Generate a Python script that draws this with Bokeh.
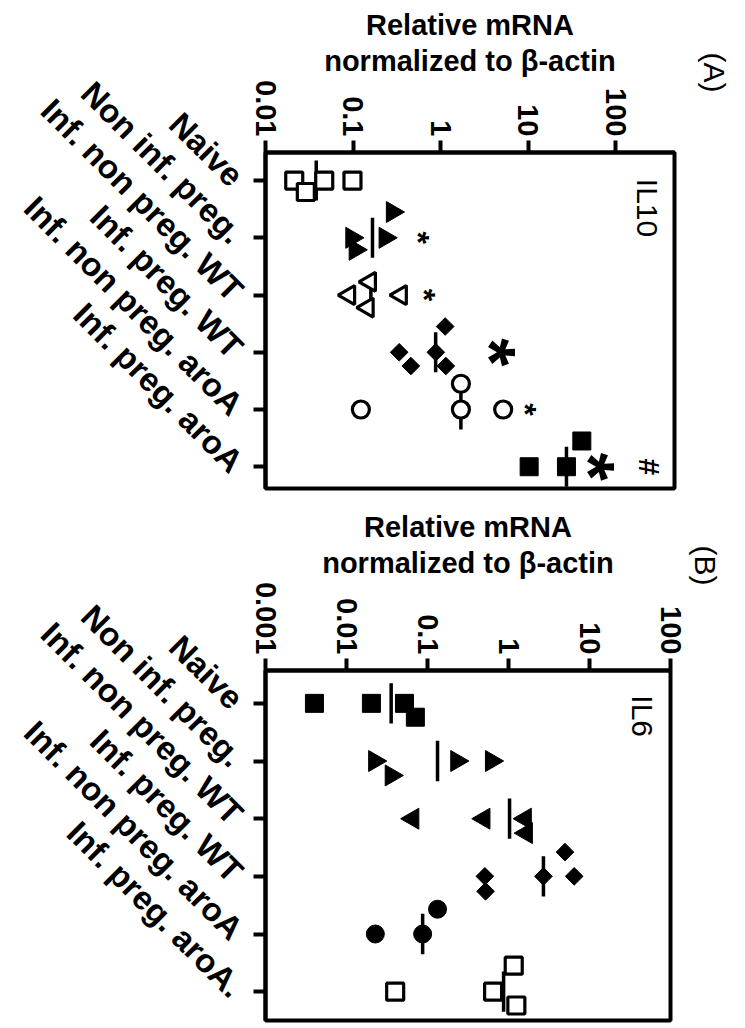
import math
from bokeh.plotting import figure
from bokeh.models import (Range1d, FixedTicker, CustomJSTickFormatter, Label,
                          ColumnDataSource, Title)
from bokeh.layouts import column
from bokeh.embed import file_html
from bokeh.resources import INLINE
from bokeh.core.properties import value

FONT = "Liberation Sans"

# ---------------- data ----------------
categories_A = ["Naive", "Non inf. preg.", "Inf. non preg. WT", "Inf. preg. WT",
                "Inf. non preg. aroA", "Inf. preg. aroA"]
categories_B = ["Naive", "Non inf. preg.", "Inf. non preg. WT", "Inf. preg. WT",
                "Inf. non preg. aroA", "Inf. preg. aroA."]

ticks_A = [0.01, 0.1, 1, 10, 100]
tick_labels_A = ["0.01", "0.1", "1", "10", "100"]
ticks_B = [0.001, 0.01, 0.1, 1, 10, 100]
tick_labels_B = ["0.001", "0.01", "0.1", "1", "10", "100"]

axis_title = "Relative mRNA\nnormalized to \u03b2-actin"

# Panel A : IL10
il10_naive = [0.0213, 0.0289, 0.0469, 0.0986]
il10_non_inf_preg = [0.282, 0.097, 0.233, 0.106]
il10_inf_non_preg_wt = [0.0903, 0.156, 0.147, 0.352]
il10_inf_preg_wt = [1.13, 0.337, 0.458, 0.883, 1.15]
il10_inf_non_preg_aroa = [0.123, 1.71, 1.71, 5.2]
il10_inf_preg_aroa = [10.3, 27.5, 41.2]
il10_means = [0.038, 0.167, 0.16, 0.88, 1.71, 27.5]
il10_jitter = [[0, 0.2, 0, 0], [-0.45, 0, 0, 0.21], [0, -0.23, 0.22, 0],
               [-0.45, 0, 0.24, 0, 0.24], [0, -0.45, 0, 0], [0, 0, -0.45]]
il10_sig_group = [1, 2, 3, 4, 5, 5]
il10_sig_value = [0.67, 0.77, 5.6, 11.2, 76, 243]
il10_sig_text = ["*", "*", "*", "*", "*", "#"]
il10_sig_kind = ["small", "small", "large", "small", "large", "hash"]

# Panel B : IL6
il6_naive = [0.00402, 0.0203, 0.052, 0.0708]
il6_non_inf_preg = [0.0223, 0.0357, 0.230, 0.617]
il6_inf_non_preg_wt = [0.0658, 0.497, 1.61, 1.66]
il6_inf_preg_wt = [4.98, 0.511, 0.521, 2.70, 6.47]
il6_inf_non_preg_aroa = [0.133, 0.0227, 0.0871]
il6_inf_preg_aroa = [0.0399, 0.646, 1.16, 1.25]
il6_means = [0.0356, 0.133, 1.03, 2.70, 0.0871, 0.87]
il6_jitter = [[0, 0, 0, 0.24], [0, 0.25, 0, 0], [0, 0, 0, 0.25],
              [-0.42, 0, 0.26, 0, 0], [-0.43, 0, 0], [0, 0, -0.45, 0.24]]

# ---------------- styles ----------------
styles_A = [
    dict(marker="square", size=17, angle=0.0, fill=False),
    dict(marker="triangle", size=21, angle=-math.pi / 2, fill=True),
    dict(marker="triangle", size=19, angle=math.pi / 2, fill=False),
    dict(marker="square", size=12.5, angle=math.pi / 4, fill=True),
    dict(marker="circle", size=17, angle=0.0, fill=False),
    dict(marker="square", size=18, angle=0.0, fill=True),
]
styles_B = [
    dict(marker="square", size=18, angle=0.0, fill=True),
    dict(marker="triangle", size=21, angle=-math.pi / 2, fill=True),
    dict(marker="triangle", size=21, angle=math.pi / 2, fill=True),
    dict(marker="square", size=12.5, angle=math.pi / 4, fill=True),
    dict(marker="circle", size=18, angle=0.0, fill=True),
    dict(marker="square", size=17, angle=0.0, fill=False),
]
kind_font = {"small": "32px", "large": "72px", "hash": "30px"}
kind_shift = {"small": -7, "large": -16, "hash": 0}


def make_panel(cats, groups, jitter, means, ticks, tick_labels, x_rng, y_rng,
               styles, frame, borders, title_standoff, gene, gene_xy,
               letter, letter_pos, sig=None):
    p = figure(frame_width=frame[0], frame_height=frame[1],
               x_axis_type="log", x_axis_location="above",
               x_range=Range1d(*x_rng), y_range=Range1d(*y_rng),
               output_backend="svg", toolbar_location=None,
               min_border_left=borders[0], min_border_right=borders[1],
               min_border_top=borders[2], min_border_bottom=borders[3])
    p.grid.visible = False
    p.background_fill_color = "white"
    p.border_fill_color = "white"
    p.outline_line_color = "black"
    p.outline_line_width = 4
    p.outline_line_alpha = 1.0

    xa = p.xaxis[0]
    xa.ticker = FixedTicker(ticks=ticks, minor_ticks=[])
    xa.formatter = CustomJSTickFormatter(
        args=dict(vals=ticks, labs=tick_labels),
        code="""
        for (let i = 0; i < vals.length; i++) {
            if (Math.abs(Math.log10(vals[i]) - Math.log10(tick)) < 1e-6) return labs[i];
        }
        return "";
        """)
    xa.major_label_orientation = -math.pi / 2
    xa.axis_label = axis_title
    xa.axis_label_text_font = FONT
    xa.axis_label_text_font_style = "bold"
    xa.axis_label_text_font_size = "29px"
    xa.axis_label_text_color = "black"
    xa.axis_label_text_line_height = 1.12
    xa.axis_label_standoff = title_standoff

    ya = p.yaxis[0]
    ya.ticker = FixedTicker(ticks=list(range(len(cats))), minor_ticks=[])
    ya.formatter = CustomJSTickFormatter(
        args=dict(labs=cats),
        code="const i = Math.round(tick); return (i >= 0 && i < labs.length) ? labs[i] : '';")
    ya.major_label_orientation = -math.pi / 4

    for ax in (xa, ya):
        ax.axis_line_width = 4
        ax.axis_line_color = "black"
        ax.major_tick_line_width = 4
        ax.major_tick_out = 12
        ax.major_tick_in = 0
        ax.minor_tick_line_color = None
        ax.major_label_text_font = FONT
        ax.major_label_text_font_style = "bold"
        ax.major_label_text_color = "black"
        ax.major_label_standoff = 4
    xa.major_label_text_font_size = "29px"
    ya.major_label_text_font_size = "33px"
    ya.major_label_standoff = 16

    # mean bars
    idx = list(range(len(cats)))
    p.segment(x0=means, x1=means, y0=[i - 0.35 for i in idx], y1=[i + 0.35 for i in idx],
              line_color="black", line_width=3.5)

    # points
    for gi, (vals, jit, st) in enumerate(zip(groups, jitter, styles)):
        ys = [gi + j for j in jit]
        p.scatter(x=vals, y=ys, marker=st["marker"], size=st["size"], angle=st["angle"],
                  fill_color="black" if st["fill"] else "white",
                  line_color="black", line_width=1 if st["fill"] else 3.2)

    if sig is not None:
        g, v, t, k = sig
        src = ColumnDataSource(dict(x=v, y=g, text=t,
                                    size=[kind_font[kk] for kk in k],
                                    dx=[kind_shift[kk] for kk in k]))
        p.text(x="x", y="y", text="text", source=src, angle=-math.pi / 2,
               x_offset="dx",
               text_font=value(FONT), text_font_style="bold", text_font_size="size",
               text_align="center", text_baseline="middle", text_color="black")

    p.add_layout(Label(x=gene_xy[0], y=gene_xy[1], text=gene, angle=-math.pi / 2,
                       text_font=FONT, text_font_size="30px", text_align="left",
                       text_baseline="middle", text_color="black"))
    off, sto = letter_pos
    p.add_layout(Title(text=letter, align="left", vertical_align="top",
                       offset=off, standoff=sto,
                       text_font=FONT, text_font_size="30px", text_font_style="normal",
                       text_color="black"), "right")
    return p


groups_A = [il10_naive, il10_non_inf_preg, il10_inf_non_preg_wt, il10_inf_preg_wt,
            il10_inf_non_preg_aroa, il10_inf_preg_aroa]
groups_B = [il6_naive, il6_non_inf_preg, il6_inf_non_preg_wt, il6_inf_preg_wt,
            il6_inf_non_preg_aroa, il6_inf_preg_aroa]

pA = make_panel(categories_A, groups_A, il10_jitter, il10_means, ticks_A, tick_labels_A,
                (0.01, 472), (5.38, -0.49), styles_A, (409, 336), (263, 73, 152, 17), 0,
                "IL10", (232, -0.03), "(A)", (-100, 42),
                sig=(il10_sig_group, il10_sig_value, il10_sig_text, il10_sig_kind))
pB = make_panel(categories_B, groups_B, il6_jitter, il6_means, ticks_B, tick_labels_B,
                (0.001, 100), (5.5, -0.57), styles_B, (405, 350), (262, 78, 165, 8), 0,
                "IL6", (45, -0.14), "(B)", (-125, 32))

layout = column(pA, pB, spacing=0)
open("out.html", "w").write(file_html(layout, INLINE))
